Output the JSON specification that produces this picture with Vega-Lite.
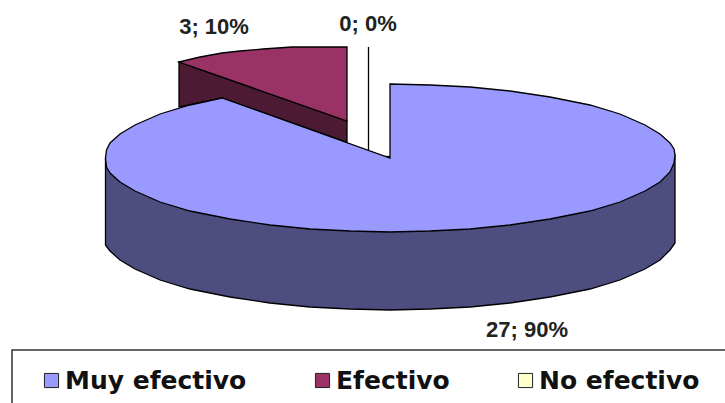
{"$schema":"https://vega.github.io/schema/vega-lite/v6.json","width":725,"height":403,"padding":0,"autosize":"none","background":"white","config":{"view":{"stroke":null}},
"datasets":{"shapes":[
{"category":"Muy efectivo","face":"side","i":1,"x":675,"y":155},{"category":"Muy efectivo","face":"side","i":2,"x":675,"y":243},{"category":"Muy efectivo","face":"side","i":3,"x":670,"y":250},{"category":"Muy efectivo","face":"side","i":4,"x":660,"y":260},{"category":"Muy efectivo","face":"side","i":5,"x":645,"y":269},{"category":"Muy efectivo","face":"side","i":6,"x":620,"y":280},{"category":"Muy efectivo","face":"side","i":7,"x":590,"y":289},{"category":"Muy efectivo","face":"side","i":8,"x":550,"y":297},{"category":"Muy efectivo","face":"side","i":9,"x":510,"y":303},{"category":"Muy efectivo","face":"side","i":10,"x":470,"y":307},{"category":"Muy efectivo","face":"side","i":11,"x":430,"y":309},{"category":"Muy efectivo","face":"side","i":12,"x":390,"y":310},{"category":"Muy efectivo","face":"side","i":13,"x":350,"y":309},{"category":"Muy efectivo","face":"side","i":14,"x":310,"y":307},{"category":"Muy efectivo","face":"side","i":15,"x":270,"y":303},{"category":"Muy efectivo","face":"side","i":16,"x":230,"y":297},{"category":"Muy efectivo","face":"side","i":17,"x":190,"y":289},{"category":"Muy efectivo","face":"side","i":18,"x":160,"y":280},{"category":"Muy efectivo","face":"side","i":19,"x":135,"y":269},{"category":"Muy efectivo","face":"side","i":20,"x":120,"y":260},{"category":"Muy efectivo","face":"side","i":21,"x":110,"y":251},{"category":"Muy efectivo","face":"side","i":22,"x":105.5,"y":245},{"category":"Muy efectivo","face":"side","i":23,"x":105.5,"y":158},
{"category":"Efectivo","face":"side","i":1,"x":179,"y":62},{"category":"Efectivo","face":"side","i":2,"x":179,"y":107},{"category":"Efectivo","face":"side","i":3,"x":222,"y":98},{"category":"Efectivo","face":"side","i":4,"x":347,"y":142},{"category":"Efectivo","face":"side","i":5,"x":347,"y":121},
{"category":"Efectivo","face":"top","i":1,"x":179,"y":62},{"category":"Efectivo","face":"top","i":2,"x":200,"y":57},{"category":"Efectivo","face":"top","i":3,"x":222,"y":53},{"category":"Efectivo","face":"top","i":4,"x":240,"y":51},{"category":"Efectivo","face":"top","i":5,"x":263,"y":49},{"category":"Efectivo","face":"top","i":6,"x":292,"y":47},{"category":"Efectivo","face":"top","i":7,"x":347,"y":47},{"category":"Efectivo","face":"top","i":8,"x":347,"y":121},
{"category":"No efectivo","face":"top","i":1,"x":368.5,"y":47},{"category":"No efectivo","face":"top","i":2,"x":368.5,"y":150},
{"category":"Muy efectivo","face":"top","i":1,"x":390,"y":158},{"category":"Muy efectivo","face":"top","i":2,"x":390,"y":84},{"category":"Muy efectivo","face":"top","i":3,"x":430,"y":85},{"category":"Muy efectivo","face":"top","i":4,"x":470,"y":87},{"category":"Muy efectivo","face":"top","i":5,"x":510,"y":91},{"category":"Muy efectivo","face":"top","i":6,"x":550,"y":97},{"category":"Muy efectivo","face":"top","i":7,"x":590,"y":105},{"category":"Muy efectivo","face":"top","i":8,"x":620,"y":114},{"category":"Muy efectivo","face":"top","i":9,"x":645,"y":125},{"category":"Muy efectivo","face":"top","i":10,"x":660,"y":134},{"category":"Muy efectivo","face":"top","i":11,"x":670,"y":143},{"category":"Muy efectivo","face":"top","i":12,"x":674,"y":149},{"category":"Muy efectivo","face":"top","i":13,"x":675,"y":155},{"category":"Muy efectivo","face":"top","i":14,"x":674,"y":163},{"category":"Muy efectivo","face":"top","i":15,"x":670,"y":172},{"category":"Muy efectivo","face":"top","i":16,"x":660,"y":182},{"category":"Muy efectivo","face":"top","i":17,"x":645,"y":191},{"category":"Muy efectivo","face":"top","i":18,"x":620,"y":202},{"category":"Muy efectivo","face":"top","i":19,"x":590,"y":211},{"category":"Muy efectivo","face":"top","i":20,"x":550,"y":219},{"category":"Muy efectivo","face":"top","i":21,"x":510,"y":225},{"category":"Muy efectivo","face":"top","i":22,"x":470,"y":229},{"category":"Muy efectivo","face":"top","i":23,"x":430,"y":231},{"category":"Muy efectivo","face":"top","i":24,"x":390,"y":232},{"category":"Muy efectivo","face":"top","i":25,"x":350,"y":231},{"category":"Muy efectivo","face":"top","i":26,"x":310,"y":229},{"category":"Muy efectivo","face":"top","i":27,"x":270,"y":225},{"category":"Muy efectivo","face":"top","i":28,"x":230,"y":219},{"category":"Muy efectivo","face":"top","i":29,"x":190,"y":211},{"category":"Muy efectivo","face":"top","i":30,"x":160,"y":202},{"category":"Muy efectivo","face":"top","i":31,"x":135,"y":191},{"category":"Muy efectivo","face":"top","i":32,"x":120,"y":182},{"category":"Muy efectivo","face":"top","i":33,"x":110,"y":173},{"category":"Muy efectivo","face":"top","i":34,"x":106.5,"y":167},{"category":"Muy efectivo","face":"top","i":35,"x":105.5,"y":158},{"category":"Muy efectivo","face":"top","i":36,"x":106.5,"y":150},{"category":"Muy efectivo","face":"top","i":37,"x":110,"y":143},{"category":"Muy efectivo","face":"top","i":38,"x":120,"y":134},{"category":"Muy efectivo","face":"top","i":39,"x":135,"y":125},{"category":"Muy efectivo","face":"top","i":40,"x":160,"y":114},{"category":"Muy efectivo","face":"top","i":41,"x":190,"y":105},{"category":"Muy efectivo","face":"top","i":42,"x":222,"y":98}
],
"labels":[{"category":"Muy efectivo","label":"27; 90%","x":527,"y":330},{"category":"Efectivo","label":"3; 10%","x":214,"y":27},{"category":"No efectivo","label":"0; 0%","x":368,"y":24}],
"frame":[{"i":1,"x":12,"y":403},{"i":2,"x":12,"y":350},{"i":3,"x":725,"y":350}]},
"encoding":{"x":{"field":"x","type":"quantitative","axis":null,"scale":{"domain":[0,725]}},"y":{"field":"y","type":"quantitative","axis":null,"scale":{"domain":[403,0]}},"order":{"field":"i","type":"quantitative"}},
"layer":[
{"data":{"name":"shapes"},"transform":[{"filter":"datum.face==='side' && datum.category==='Muy efectivo'"}],"mark":{"type":"line","fill":"#4d4d80","stroke":"black","strokeWidth":1.3,"interpolate":"linear-closed"}},
{"data":{"name":"shapes"},"transform":[{"filter":"datum.face==='side' && datum.category==='Efectivo'"}],"mark":{"type":"line","fill":"#4d1a33","stroke":"black","strokeWidth":1.3,"interpolate":"linear-closed"}},
{"data":{"name":"shapes"},"transform":[{"filter":"datum.face==='top'"}],"mark":{"type":"line","stroke":"black","strokeWidth":1.3,"interpolate":"linear-closed"},"encoding":{"fill":{"field":"category","type":"nominal","scale":{"domain":["Muy efectivo","Efectivo","No efectivo"],"range":["#9999ff","#993366","#ffffcc"]},"legend":{"title":null,"orient":"none","legendX":39,"legendY":368,"direction":"horizontal","columns":3,"gridAlign":"none","columnPadding":63,"symbolType":"square","symbolSize":200,"symbolStrokeColor":"#222","symbolStrokeWidth":1,"labelFont":"DejaVu Sans","labelFontSize":25,"labelFontWeight":"bold","labelColor":"#111","labelOffset":1,"labelLimit":400,"symbolOpacity":1}}}},
{"data":{"name":"frame"},"mark":{"type":"line","stroke":"#333","strokeWidth":1.5}},
{"data":{"name":"labels"},"mark":{"type":"text","font":"Liberation Sans","fontWeight":"bold","fontSize":22,"fill":"#222","align":"center","baseline":"middle"},"encoding":{"text":{"field":"label"},"order":{"value":0}}}
]}
